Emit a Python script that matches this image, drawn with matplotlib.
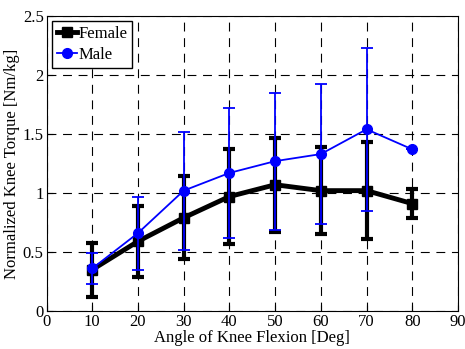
import matplotlib
matplotlib.use("Agg")
import numpy as np
import matplotlib.pyplot as plt

plt.rcParams['font.family'] = ['Liberation Serif', 'DejaVu Serif']

angle = [10, 20, 30, 40, 50, 60, 70, 80]
female_mean = [0.35, 0.59, 0.79, 0.97, 1.07, 1.02, 1.02, 0.91]
female_err = [0.23, 0.30, 0.35, 0.40, 0.40, 0.37, 0.41, 0.12]
male_mean = [0.36, 0.66, 1.02, 1.17, 1.27, 1.33, 1.54, 1.37]
male_err = [0.135, 0.31, 0.50, 0.55, 0.58, 0.59, 0.69, 0.0]

fig = plt.figure(figsize=(4.65, 3.49), dpi=100)
ax = fig.add_axes([0.1, 0.109, 0.885, 0.845])

f = ax.errorbar(angle, female_mean, yerr=female_err, color="black", lw=3.5,
                marker="s", ms=7, elinewidth=3, capsize=4.5, capthick=3,
                zorder=3)
m = ax.errorbar(angle, male_mean, yerr=male_err, color="#0000ff", lw=1.3,
                marker="o", ms=7, elinewidth=1.3, capsize=4.5, capthick=1.3,
                zorder=4)

ax.set_xlim(0, 90)
ax.set_ylim(0, 2.5)
ax.set_xticks(np.arange(0, 91, 10))
ax.set_yticks([0, 0.5, 1, 1.5, 2, 2.5])
ax.set_yticklabels(["0", "0.5", "1", "1.5", "2", "2.5"])
ax.grid(True, color="black", linestyle=(0, (8, 6)), lw=0.8)
ax.tick_params(direction="in", labelsize=12, length=4, pad=2)
ax.set_xlabel("Angle of Knee Flexion [Deg]", fontsize=12, labelpad=0)
ax.set_ylabel("Normalized Knee Torque [Nm/kg]", fontsize=12, labelpad=2)

leg = ax.legend([f.lines[0], m.lines[0]], ["Female", "Male"],
                loc="upper left", fontsize=12, handlelength=1.2,
                handletextpad=0.1, borderaxespad=0.3, fancybox=False,
                framealpha=1, borderpad=0.3, labelspacing=0.3)
leg.get_frame().set_edgecolor("black")

fig.savefig("out.png", dpi=100)
